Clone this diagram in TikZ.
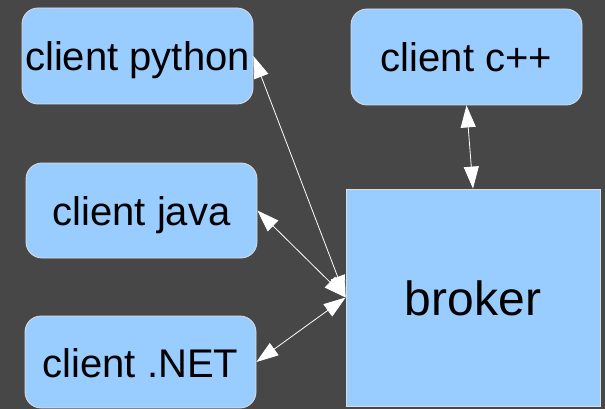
\documentclass[tikz,border=0pt]{standalone}
\usepackage{fontspec}
\setmainfont{Liberation Sans}
\usetikzlibrary{arrows.meta}
\definecolor{bgdark}{HTML}{474747}
\definecolor{boxblue}{HTML}{99CCFF}
\definecolor{boxline}{HTML}{DDDDDD}
\tikzset{
  client/.style={draw=boxline, line width=0.8pt, fill=boxblue, rounded corners=16pt,
    minimum width=231pt, inner sep=0pt, text height=40pt, text depth=10pt,
    font=\fontsize{40}{48}\selectfont},
  brokerbox/.style={draw=boxline, line width=0.8pt, fill=boxblue,
    minimum width=254pt, minimum height=217pt, inner sep=0pt,
    text height=48pt, text depth=13pt, font=\fontsize{48}{56}\selectfont},
  link/.style={draw=white, line width=0.8pt,
    {Triangle[length=22pt,width=15pt]}-{Triangle[length=22pt,width=15pt]}}
}
\begin{document}
\begin{tikzpicture}[x=1pt, y=-1pt]
  \fill[bgdark] (0,0) rectangle (605,409);
  \useasboundingbox (0,0) rectangle (605,409);

  \node[client, minimum height=96pt] (python) at (137.5,56) {client python};
  \node[client, minimum height=96pt] (cpp)    at (466.5,57) {client c++};
  \node[client, minimum height=95pt] (java)   at (141.5,210.5) {client java};
  \node[client, minimum height=92pt] (net)    at (140.5,362) {client .NET};
  \node[brokerbox] (broker) at (473,297.5) {broker};

  \draw[link] (python.east) -- (broker.west);
  \draw[link] (java.east) -- (broker.west);
  \draw[link] (net.east) -- (broker.west);
  \draw[link] (cpp.south) -- (broker.north);
\end{tikzpicture}
\end{document}
